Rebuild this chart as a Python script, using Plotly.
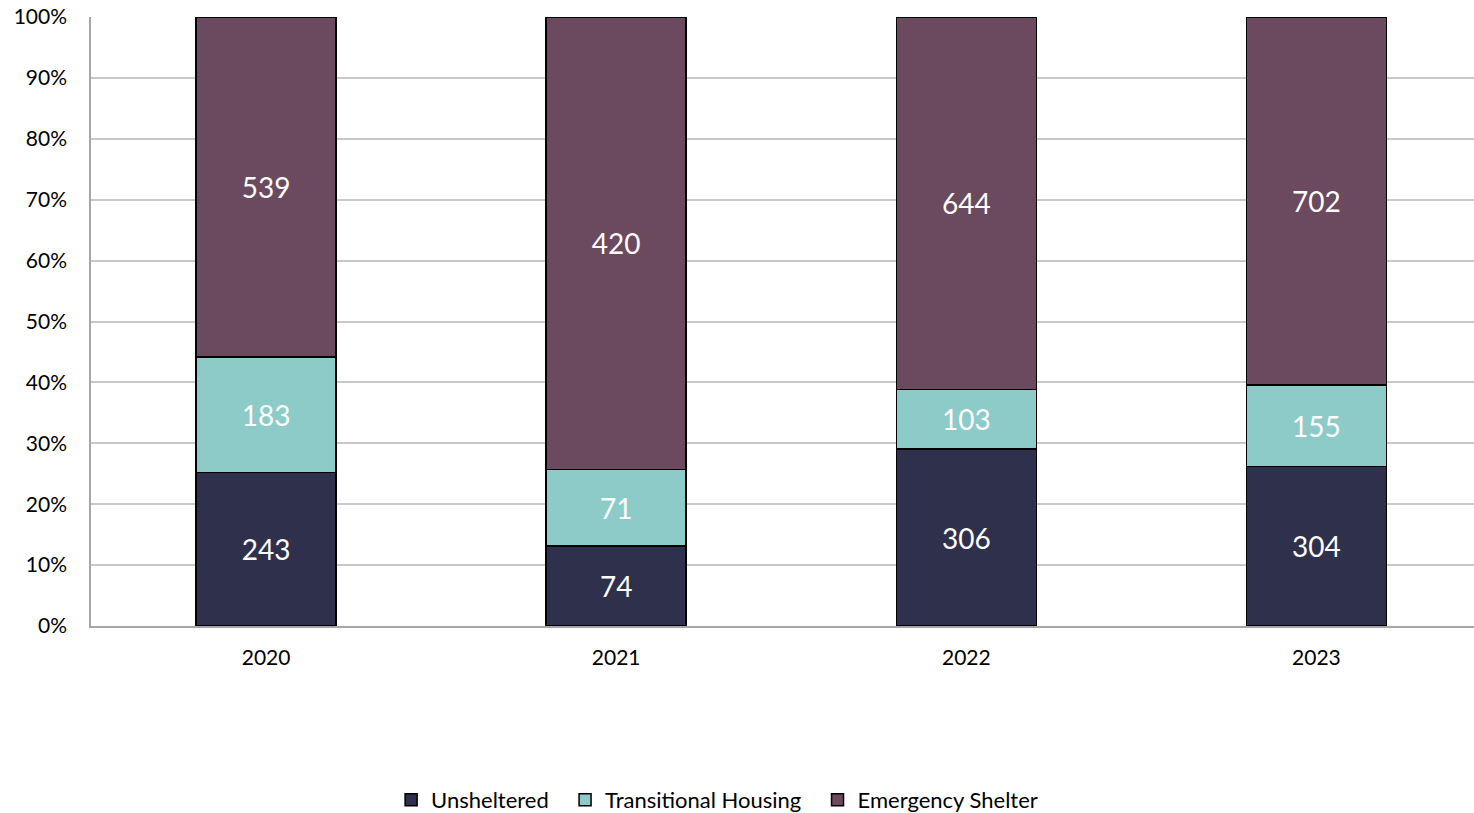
import plotly.graph_objects as go

years = ["2020", "2021", "2022", "2023"]
unsheltered = [243, 74, 306, 304]
transitional = [183, 71, 103, 155]
emergency = [539, 420, 644, 702]

series = [
    ("Unsheltered\u00a0\u00a0", unsheltered, "#2F304B"),
    ("Transitional Housing\u00a0\u00a0", transitional, "#8DCBC8"),
    ("Emergency Shelter", emergency, "#6B4A5F"),
]

FONT = "Lato, 'Open Sans', sans-serif"

fig = go.Figure()
for name, vals, color in series:
    fig.add_trace(go.Bar(
        name=name, x=years, y=vals,
        text=[str(v) for v in vals],
        textposition="inside", insidetextanchor="middle",
        textfont=dict(color="white", size=28, family=FONT),
        marker=dict(color=color, line=dict(color="black", width=1.5)),
        width=0.4,
    ))

fig.update_layout(
    barmode="stack", barnorm="percent",
    width=1474, height=813,
    margin=dict(l=91, r=0, t=17, b=187, autoexpand=False),
    plot_bgcolor="white", paper_bgcolor="white",
    font=dict(family=FONT, color="black", size=21),
    legend=dict(orientation="h", x=0.217, xanchor="left", y=-0.2857, yanchor="middle",
                traceorder="normal", font=dict(size=22), itemwidth=30),
    xaxis=dict(range=[-0.5, 3.45], showline=True, linecolor="#A6A6A6", linewidth=1.5,
               ticks="", tickfont=dict(size=21), showgrid=False, ticklabelstandoff=12),
    yaxis=dict(range=[0, 100], dtick=10, ticksuffix="%", showgrid=True,
               gridcolor="#C8C8C8", gridwidth=1.5, showline=True, linecolor="#A6A6A6",
               linewidth=1.5, ticks="", tickfont=dict(size=21), zeroline=False,
               ticklabelstandoff=18),
)

fig.write_html(
    "out.html",
    config={"displayModeBar": False},
    post_script="document.body.style.margin='0';document.body.style.overflow='hidden';",
)
